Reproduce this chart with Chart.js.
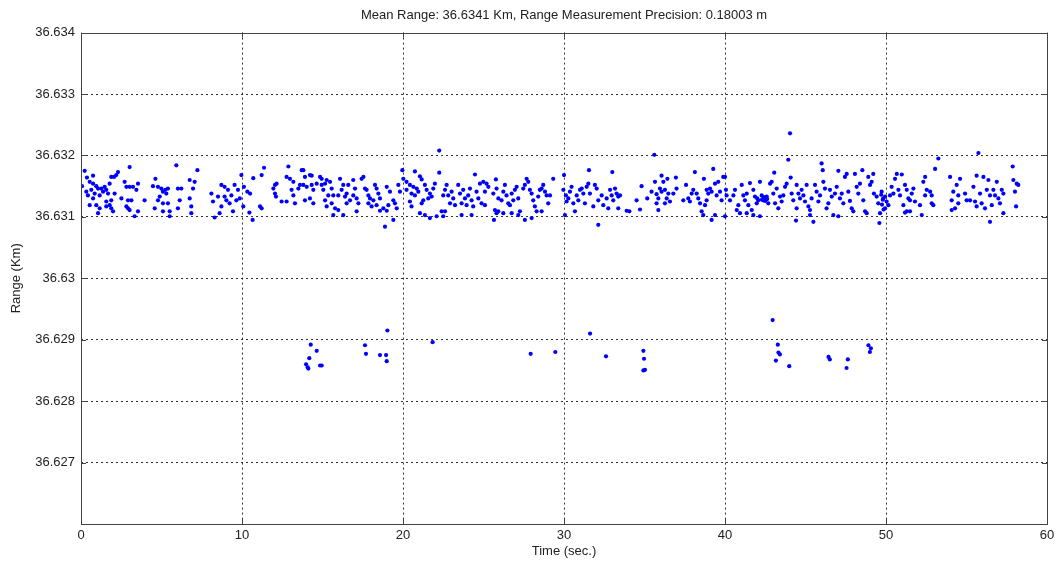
<!DOCTYPE html>
<html>
<head>
<meta charset="utf-8">
<script src="https://cdn.jsdelivr.net/npm/chart.js@4/dist/chart.umd.min.js"></script>
<style>
  html, body { margin: 0; padding: 0; background: #fff; }
  canvas { display: block; }
</style>
</head>
<body>
<canvas id="rangeChart" width="1059" height="562"></canvas>
<script>
// [time (sec), range (Km)], grouped by 10 s span
const band0to10 = [[0.23,36.63175],[0.75,36.63167],[0.37,36.63164],[0.06,36.63150],[0.54,36.63157],[0.75,36.63154],[0.95,36.63150],[1.06,36.63146],[1.26,36.63146],[0.64,36.63144],[0.85,36.63138],[1.16,36.63135],[1.37,36.63141],[1.47,36.63149],[1.57,36.63144],[1.68,36.63138],[1.78,36.63154],[1.88,36.63165],[2.05,36.63165],[2.19,36.63168],[2.30,36.63173],[0.33,36.63141],[0.43,36.63135],[0.75,36.63130],[0.54,36.63119],[0.95,36.63119],[1.16,36.63114],[1.06,36.63106],[1.57,36.63125],[1.78,36.63119],[1.88,36.63114],[1.99,36.63109],[1.57,36.63117],[2.09,36.63138],[1.88,36.63127],[3.02,36.63181],[2.71,36.63157],[2.82,36.63149],[3.02,36.63149],[3.23,36.63149],[3.54,36.63154],[3.44,36.63144],[2.51,36.63130],[2.92,36.63127],[3.13,36.63127],[2.82,36.63117],[2.92,36.63114],[3.02,36.63111],[3.54,36.63109],[3.95,36.63127],[3.33,36.63101],[4.62,36.63162],[4.47,36.63150],[4.78,36.63149],[4.99,36.63146],[5.09,36.63141],[5.24,36.63144],[5.40,36.63146],[5.30,36.63138],[4.89,36.63133],[4.78,36.63127],[5.09,36.63122],[5.40,36.63122],[5.92,36.63184],[6.02,36.63146],[6.23,36.63146],[6.13,36.63127],[6.02,36.63114],[5.51,36.63109],[5.09,36.63109],[4.58,36.63114],[5.51,36.63101],[6.75,36.63160],[7.06,36.63157],[6.96,36.63146],[6.75,36.63130],[6.85,36.63117],[6.85,36.63106],[7.23,36.63176],[8.10,36.63138],[8.20,36.63125],[8.30,36.63099],[8.61,36.63106],[8.72,36.63117],[8.72,36.63152],[8.92,36.63149],[9.13,36.63144],[9.34,36.63135],[9.54,36.63152],[9.75,36.63144],[9.96,36.63168],[9.03,36.63127],[9.23,36.63122],[9.44,36.63109],[9.65,36.63127],[9.86,36.63130],[8.92,36.63133],[8.51,36.63133]];

const band10to20 = [[10.12,36.63149],[10.33,36.63141],[10.50,36.63138],[10.08,36.63117],[10.46,36.63107],[10.66,36.63095],[10.70,36.63163],[11.22,36.63168],[11.37,36.63180],[11.12,36.63117],[11.22,36.63114],[11.95,36.63146],[12.05,36.63152],[12.05,36.63138],[12.11,36.63133],[12.15,36.63154],[12.46,36.63125],[12.77,36.63125],[12.88,36.63182],[12.77,36.63165],[12.98,36.63162],[13.08,36.63144],[13.19,36.63157],[13.19,36.63135],[13.29,36.63122],[13.50,36.63146],[13.60,36.63152],[13.71,36.63176],[13.81,36.63176],[13.91,36.63165],[13.81,36.63152],[14.02,36.63149],[14.22,36.63168],[14.33,36.63167],[14.33,36.63152],[14.43,36.63144],[13.91,36.63127],[14.22,36.63130],[14.43,36.63122],[14.85,36.63165],[14.95,36.63162],[14.95,36.63152],[15.05,36.63144],[15.16,36.63154],[15.26,36.63160],[15.36,36.63135],[15.16,36.63127],[15.26,36.63117],[15.47,36.63157],[15.57,36.63146],[15.67,36.63135],[15.57,36.63122],[15.78,36.63114],[15.98,36.63111],[15.67,36.63103],[16.09,36.63162],[16.19,36.63144],[16.29,36.63152],[16.40,36.63133],[16.50,36.63138],[16.60,36.63152],[16.50,36.63122],[16.71,36.63127],[16.29,36.63103],[16.91,36.63160],[17.02,36.63146],[16.91,36.63135],[17.12,36.63130],[17.23,36.63122],[17.12,36.63109],[17.43,36.63162],[17.54,36.63165],[17.64,36.63146],[17.74,36.63144],[17.85,36.63135],[17.95,36.63130],[17.85,36.63122],[18.05,36.63117],[18.26,36.63152],[18.36,36.63146],[18.47,36.63138],[18.57,36.63130],[18.16,36.63127],[18.36,36.63119],[18.57,36.63110],[18.78,36.63114],[18.99,36.63110],[19.09,36.63119],[18.99,36.63149],[19.19,36.63141],[19.40,36.63127],[19.50,36.63122],[19.61,36.63114],[19.71,36.63152],[19.81,36.63141],[19.96,36.63176],[20.02,36.63162],[18.88,36.63084],[19.40,36.63095],[15.98,36.63135],[14.64,36.63154]];

const band20to30 = [[22.25,36.63208],[22.25,36.63172],[20.74,36.63174],[21.05,36.63166],[21.16,36.63161],[20.22,36.63157],[20.43,36.63152],[20.64,36.63149],[20.85,36.63146],[20.22,36.63144],[20.53,36.63138],[20.74,36.63135],[20.95,36.63141],[21.36,36.63152],[21.47,36.63144],[21.67,36.63138],[21.88,36.63146],[21.98,36.63154],[21.26,36.63127],[21.16,36.63122],[21.57,36.63130],[21.78,36.63133],[20.43,36.63125],[20.53,36.63117],[21.05,36.63106],[21.36,36.63103],[21.67,36.63098],[22.09,36.63101],[22.40,36.63109],[22.61,36.63109],[22.50,36.63101],[22.71,36.63152],[22.61,36.63144],[22.50,36.63135],[22.81,36.63135],[23.02,36.63141],[23.12,36.63130],[22.92,36.63122],[23.23,36.63119],[23.43,36.63152],[23.54,36.63138],[23.74,36.63144],[23.85,36.63130],[23.64,36.63122],[23.95,36.63119],[24.05,36.63135],[24.16,36.63146],[24.26,36.63127],[24.36,36.63117],[24.47,36.63169],[24.57,36.63141],[24.68,36.63130],[24.78,36.63154],[24.99,36.63157],[25.19,36.63154],[25.30,36.63149],[25.09,36.63141],[24.88,36.63122],[25.09,36.63119],[23.64,36.63103],[24.26,36.63103],[25.61,36.63138],[25.77,36.63161],[25.81,36.63146],[25.92,36.63130],[25.71,36.63111],[25.81,36.63106],[25.92,36.63109],[25.65,36.63095],[26.23,36.63141],[26.33,36.63152],[26.43,36.63135],[26.54,36.63122],[26.64,36.63119],[26.75,36.63138],[26.85,36.63127],[26.95,36.63144],[27.06,36.63149],[27.16,36.63130],[27.26,36.63109],[26.75,36.63106],[27.47,36.63146],[27.57,36.63152],[27.68,36.63162],[27.78,36.63157],[27.88,36.63144],[27.99,36.63138],[28.09,36.63127],[28.19,36.63117],[28.30,36.63109],[28.40,36.63133],[28.50,36.63144],[28.61,36.63146],[28.71,36.63152],[28.82,36.63141],[28.92,36.63135],[29.02,36.63122],[29.13,36.63135],[29.33,36.63162],[27.57,36.63095],[27.16,36.63103],[26.23,36.63106],[27.99,36.63098],[28.61,36.63109],[26.12,36.63127]];

const band30to40 = [[30.00,36.63168],[29.96,36.63144],[30.12,36.63135],[30.06,36.63103],[30.16,36.63125],[30.27,36.63130],[30.37,36.63141],[30.47,36.63149],[30.58,36.63122],[30.68,36.63109],[30.79,36.63135],[30.89,36.63127],[30.99,36.63144],[31.10,36.63146],[31.20,36.63138],[31.30,36.63122],[31.41,36.63149],[31.51,36.63154],[31.55,36.63176],[31.61,36.63138],[31.82,36.63117],[31.92,36.63152],[32.03,36.63146],[32.13,36.63127],[32.13,36.63087],[32.34,36.63135],[32.44,36.63119],[32.65,36.63130],[32.75,36.63114],[32.86,36.63144],[32.96,36.63135],[33.00,36.63173],[33.06,36.63127],[33.17,36.63146],[33.27,36.63138],[33.37,36.63133],[33.48,36.63135],[33.37,36.63114],[33.89,36.63110],[34.06,36.63109],[34.51,36.63127],[34.82,36.63150],[34.72,36.63112],[35.17,36.63130],[35.44,36.63141],[35.61,36.63201],[35.65,36.63157],[35.75,36.63122],[35.86,36.63111],[35.96,36.63146],[36.06,36.63167],[36.17,36.63157],[36.27,36.63122],[36.38,36.63130],[36.48,36.63138],[36.42,36.63162],[36.58,36.63125],[36.79,36.63138],[36.95,36.63164],[36.99,36.63146],[37.41,36.63127],[37.58,36.63152],[37.72,36.63130],[37.82,36.63125],[37.93,36.63138],[38.03,36.63144],[38.13,36.63173],[38.24,36.63138],[38.34,36.63130],[38.45,36.63122],[38.55,36.63109],[38.65,36.63103],[38.69,36.63162],[38.86,36.63144],[38.96,36.63138],[39.07,36.63146],[39.17,36.63141],[39.27,36.63178],[39.38,36.63154],[39.48,36.63135],[39.17,36.63095],[39.38,36.63103],[39.58,36.63157],[39.69,36.63141],[39.79,36.63127],[39.89,36.63165],[35.86,36.63130],[36.06,36.63141],[36.27,36.63144],[35.75,36.63137],[38.76,36.63119],[38.86,36.63127]];

const band40to50 = [[40.00,36.63165],[40.06,36.63144],[40.10,36.63135],[40.00,36.63101],[40.31,36.63127],[40.52,36.63135],[40.62,36.63144],[40.73,36.63111],[40.83,36.63119],[40.93,36.63106],[41.04,36.63152],[41.14,36.63135],[41.24,36.63127],[41.35,36.63138],[41.45,36.63119],[41.55,36.63155],[41.66,36.63111],[41.76,36.63144],[41.86,36.63133],[41.97,36.63122],[42.07,36.63127],[42.17,36.63157],[42.28,36.63135],[42.38,36.63127],[42.48,36.63130],[42.59,36.63133],[42.69,36.63122],[42.80,36.63154],[42.90,36.63157],[43.00,36.63138],[43.06,36.63172],[43.11,36.63122],[43.21,36.63146],[43.31,36.63114],[43.42,36.63133],[43.52,36.63125],[43.62,36.63135],[43.73,36.63149],[43.83,36.63154],[43.93,36.63193],[44.04,36.63236],[44.08,36.63164],[44.14,36.63138],[44.24,36.63127],[44.41,36.63094],[44.45,36.63152],[44.56,36.63138],[44.66,36.63130],[44.76,36.63144],[44.87,36.63135],[44.97,36.63125],[45.07,36.63152],[45.18,36.63117],[45.28,36.63111],[45.38,36.63130],[45.49,36.63092],[45.59,36.63152],[45.69,36.63141],[45.80,36.63125],[45.90,36.63135],[46.00,36.63187],[46.07,36.63176],[46.11,36.63157],[46.21,36.63146],[46.31,36.63114],[46.42,36.63122],[46.52,36.63144],[46.63,36.63133],[46.73,36.63103],[46.83,36.63138],[46.94,36.63149],[47.04,36.63175],[47.14,36.63130],[47.25,36.63138],[47.35,36.63122],[47.45,36.63165],[47.56,36.63170],[47.66,36.63141],[47.76,36.63126],[47.87,36.63114],[47.97,36.63109],[48.07,36.63170],[48.18,36.63149],[48.28,36.63138],[48.38,36.63154],[48.53,36.63176],[48.59,36.63127],[48.70,36.63109],[48.80,36.63106],[48.90,36.63165],[49.01,36.63152],[49.11,36.63157],[49.21,36.63170],[49.25,36.63138],[49.42,36.63133],[49.52,36.63122],[49.59,36.63090],[49.63,36.63106],[49.73,36.63141],[49.83,36.63130],[47.04,36.63101],[45.28,36.63103],[44.45,36.63114],[42.17,36.63101],[41.76,36.63103],[41.35,36.63106],[42.00,36.63130],[42.30,36.63128],[42.50,36.63126],[42.62,36.63129],[42.40,36.63132]];

const band50to60 = [[49.70,36.63136],[49.80,36.63128],[49.75,36.63120],[49.85,36.63112],[49.94,36.63133],[50.04,36.63125],[50.15,36.63119],[49.94,36.63114],[50.25,36.63135],[50.35,36.63149],[50.46,36.63138],[50.56,36.63162],[50.67,36.63170],[50.77,36.63144],[50.87,36.63135],[50.98,36.63169],[51.08,36.63119],[51.18,36.63152],[51.29,36.63144],[51.39,36.63130],[51.49,36.63127],[51.60,36.63138],[51.70,36.63146],[51.80,36.63125],[51.29,36.63109],[51.49,36.63109],[51.18,36.63107],[52.11,36.63119],[52.22,36.63103],[52.32,36.63157],[52.43,36.63165],[52.43,36.63135],[52.53,36.63144],[52.74,36.63141],[52.84,36.63135],[52.84,36.63122],[52.94,36.63119],[53.05,36.63178],[53.25,36.63195],[53.98,36.63165],[54.08,36.63127],[54.18,36.63141],[54.08,36.63111],[54.29,36.63114],[54.39,36.63152],[54.49,36.63135],[54.49,36.63122],[54.60,36.63162],[54.91,36.63138],[55.01,36.63127],[55.22,36.63127],[55.43,36.63149],[55.53,36.63125],[55.63,36.63167],[55.63,36.63117],[55.74,36.63204],[55.84,36.63138],[55.94,36.63122],[56.05,36.63165],[56.15,36.63114],[56.26,36.63144],[56.36,36.63160],[56.46,36.63135],[56.46,36.63092],[56.57,36.63119],[56.67,36.63144],[56.77,36.63135],[56.88,36.63157],[56.98,36.63130],[57.08,36.63122],[57.19,36.63144],[57.29,36.63138],[57.29,36.63106],[57.87,36.63182],[57.91,36.63160],[58.01,36.63141],[58.12,36.63154],[58.22,36.63152],[58.08,36.63117]];

// stray returns near 36.6285 - 36.6293 Km
const lowReturns = [[14.27,36.62892],[14.64,36.62882],[14.18,36.62870],[13.98,36.62860],[14.08,36.62855],[14.12,36.62853],[14.85,36.62858],[14.95,36.62858],[17.64,36.62891],[17.70,36.62877],[18.57,36.62875],[18.95,36.62875],[18.99,36.62865],[19.03,36.62915],[21.84,36.62896],[27.93,36.62877],[29.46,36.62880],[31.62,36.62910],[32.61,36.62873],[34.93,36.62882],[34.97,36.62869],[34.93,36.62850],[35.03,36.62851],[42.96,36.62932],[43.28,36.62892],[43.32,36.62879],[43.41,36.62876],[43.16,36.62866],[43.99,36.62857],[46.43,36.62872],[46.51,36.62868],[47.63,36.62868],[47.55,36.62854],[48.91,36.62891],[49.06,36.62886],[49.00,36.62880]];

const xTicks = [0, 10, 20, 30, 40, 50, 60];
const yTicks = [36.626, 36.627, 36.628, 36.629, 36.63, 36.631, 36.632, 36.633, 36.634];

const points = [...band0to10, ...band10to20, ...band20to30, ...band30to40, ...band40to50, ...band50to60, ...lowReturns]
    .map(([t, r]) => ({ x: t, y: r }));

Chart.defaults.font.family = '"Liberation Sans", Arial, sans-serif';
Chart.defaults.font.size = 13;
Chart.defaults.color = '#222';

// box around the plot with inward tick marks, like the original figure
const frame = {
    id: 'frame',
    afterDraw(chart) {
        const { ctx, chartArea: a, scales: { x, y } } = chart;
        const L = x.getPixelForValue(0), R = x.getPixelForValue(60);
        const T = y.getPixelForValue(36.634), B = y.getPixelForValue(36.626);
        ctx.save();
        ctx.strokeStyle = '#444';
        ctx.lineWidth = 1;
        ctx.setLineDash([]);
        ctx.strokeRect(Math.round(L) + 0.5, Math.round(T) + 0.5, Math.round(R - L), Math.round(B - T));
        ctx.beginPath();
        for (const v of yTicks) {
            const py = Math.round(y.getPixelForValue(v)) + 0.5;
            ctx.moveTo(L, py); ctx.lineTo(L + 5, py);
            ctx.moveTo(R, py); ctx.lineTo(R - 5, py);
        }
        for (const v of xTicks) {
            const px = Math.round(x.getPixelForValue(v)) + 0.5;
            ctx.moveTo(px, B); ctx.lineTo(px, B - 5);
            ctx.moveTo(px, T); ctx.lineTo(px, T + 5);
        }
        ctx.stroke();
        ctx.restore();
    },
};

// no dashed grid line on the box edges
const edgeFree = (lo, hi) => c =>
    (c.tick && (c.tick.value === lo || c.tick.value === hi)) ? 'rgba(0,0,0,0)' : 'rgba(0,0,0,0.8)';

new Chart(document.getElementById('rangeChart'), {
    type: 'scatter',
    data: {
        datasets: [{
            data: points,
            backgroundColor: '#0000ff',
            borderWidth: 0,
            pointRadius: 2.1,
            pointHoverRadius: 2.1,
        }],
    },
    options: {
        responsive: false,
        animation: false,
        events: [],
        layout: { padding: { right: 12 } },
        plugins: {
            legend: { display: false },
            tooltip: { enabled: false },
            title: {
                display: true,
                fullSize: false,
                text: 'Mean Range: 36.6341 Km, Range Measurement Precision: 0.18003 m',
                color: '#222',
                font: { size: 13, weight: 'normal' },
                padding: { top: 8, bottom: 9 },
            },
        },
        scales: {
            x: {
                type: 'linear',
                min: 0,
                max: 60,
                afterBuildTicks: s => { s.ticks = xTicks.map(v => ({ value: v })); },
                afterFit: s => { s.height = 38; },
                ticks: { padding: 4, maxRotation: 0, color: '#222' },
                grid: { color: edgeFree(0, 60), lineWidth: 1, drawTicks: false },
                border: { display: false, dash: [2, 3] },
                title: { display: true, text: 'Time (sec.)', color: '#222', padding: { top: 0, bottom: 3 } },
            },
            y: {
                type: 'linear',
                min: 36.626,
                max: 36.634,
                afterBuildTicks: s => { s.ticks = yTicks.map(v => ({ value: v })); },
                afterFit: s => { s.width = 81; },
                ticks: {
                    padding: 6,
                    color: '#222',
                    callback: v => (v < 36.6265 ? '' : String(+v.toFixed(3))),
                },
                grid: { color: edgeFree(36.626, 36.634), lineWidth: 1, drawTicks: false },
                border: { display: false, dash: [2, 3] },
                title: { display: true, text: 'Range (Km)', color: '#222', padding: { top: 9, bottom: 0 } },
            },
        },
    },
    plugins: [frame],
});
</script>
</body>
</html>
